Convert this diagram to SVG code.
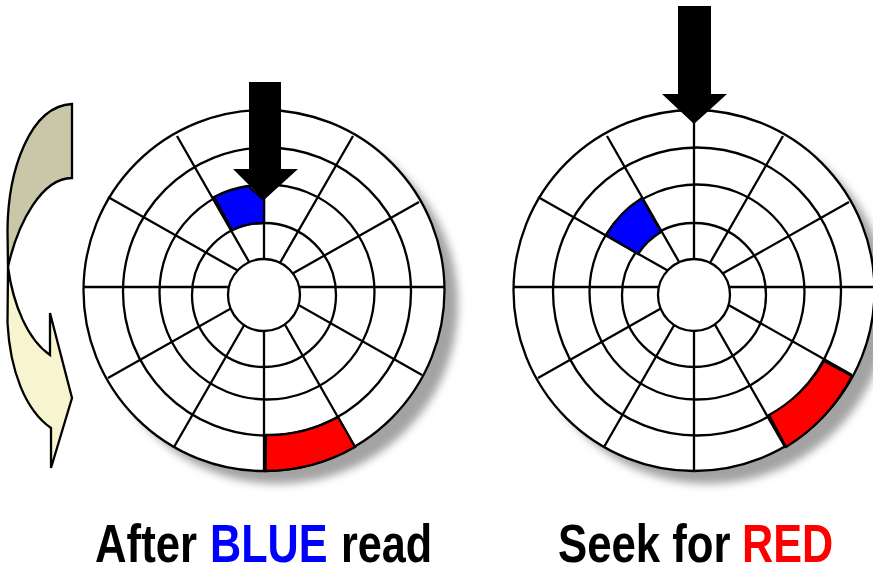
<svg xmlns="http://www.w3.org/2000/svg" xmlns:xlink="http://www.w3.org/1999/xlink" width="873" height="571" viewBox="0 0 873 571">
<style>
.l{fill:none;stroke:#000;stroke-width:2.3}
.d{fill:#fff;stroke:#000;stroke-width:2.3}
.s{stroke:#000;stroke-width:2.3;stroke-linejoin:miter}
.t{font-family:"Liberation Sans",Arial,sans-serif;font-weight:700;font-size:54px}
</style>
<defs>
<filter id="b" x="-20%" y="-20%" width="140%" height="140%"><feGaussianBlur stdDeviation="4.5"/></filter>
<g id="disk">
<circle cx="264" cy="290.5" r="180.5" class="d"/>
<path class="l" d="M177,136L355,447M353,136L174,447M108,197L422,375M419,202L108,378M83,287H444M264,111V470"/>
<circle cx="267" cy="291.5" r="144" class="l"/>
<circle cx="267" cy="292" r="107.5" class="l"/>
<circle cx="264" cy="295" r="72" class="l"/>
<circle cx="264" cy="295" r="36" class="d"/>
</g>
</defs>
<g id="rotation-arrow">
<path class="s" fill="#f7f4cf" d="M8,267L7.5,323C10,370 25,410 51,428V468L72,398L50,313V355C28,340 13,305 8,267Z"/>
<path class="s" fill="#c9c7a8" d="M72,104V178C42,178 18,222 8,267L7.5,230C8,170 30,106 72,104Z"/>
</g>
<g id="disk-left">
<circle cx="278" cy="304" r="180" fill="#a3a3a3" filter="url(#b)"/>
<use xlink:href="#disk" href="#disk"/>
<path class="s" fill="#00f" d="M214,197A108,108 0 0 1 248,186L264,200V223A72,72 0 0 0 232,230Z"/>
<path class="s" fill="#f00" d="M266,435A144,144 0 0 0 338,417L355,447A181,181 0 0 1 265.5,471Z"/>
</g>
<g id="disk-right">
<circle cx="708" cy="304" r="180" fill="#a3a3a3" filter="url(#b)"/>
<use xlink:href="#disk" href="#disk" x="430"/>
<path class="s" fill="#00f" d="M642,198L661,232A71,71 0 0 0 638,254L606,235A108,108 0 0 1 642,198Z"/>
<path class="s" fill="#f00" d="M824,361L852,376A181,181 0 0 1 786,447L769,415A144,144 0 0 0 824,361Z"/>
</g>
<g id="head-left"><path d="M249,82H281V169H298L264,200L233,169H249Z"/></g>
<g id="head-right"><path d="M678,6H711V94H727L694,124L662,94H678Z"/></g>
<g id="caption-left">
<text class="t" transform="translate(95,562) scale(.81,1)">After</text>
<text class="t" fill="#00f" transform="translate(210,562) scale(.8,1)">BLUE</text>
<text class="t" transform="translate(341,562) scale(.8,1)">read</text>
</g>
<g id="caption-right">
<text class="t" transform="translate(558,562) scale(.81,1)">Seek for</text>
<text class="t" fill="#f00" transform="translate(742,562) scale(.8,1)">RED</text>
</g>
</svg>
